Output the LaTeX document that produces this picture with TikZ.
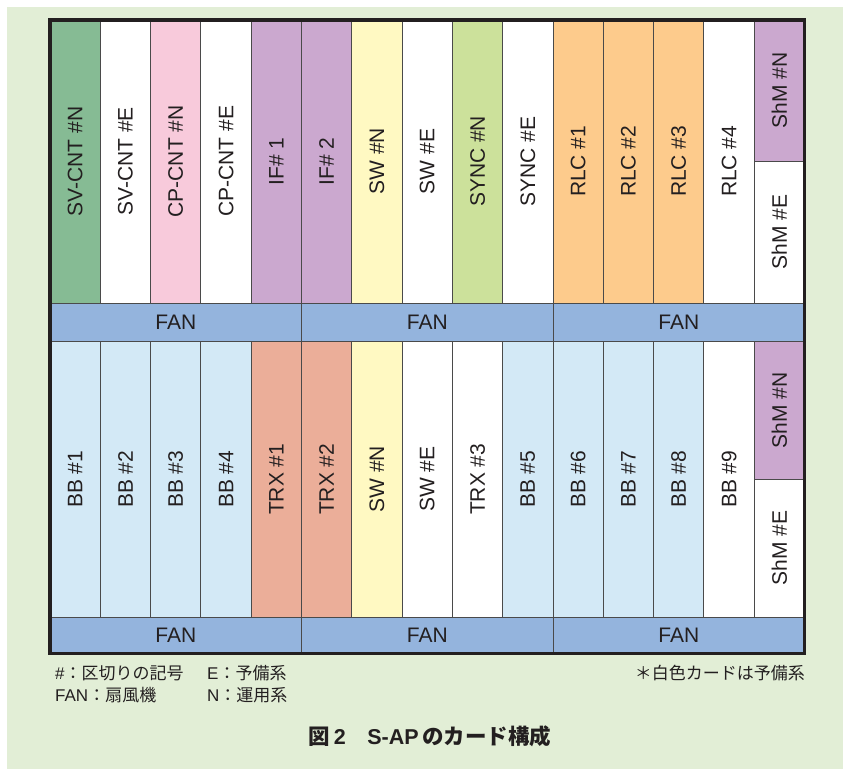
\documentclass[tikz,border=0pt]{standalone}
\usepackage{fontspec}
\setmainfont{Liberation Sans}
\newfontfamily\cjk{Noto Sans CJK JP}
\definecolor{bgc}{HTML}{E2EED6}
\definecolor{txt}{HTML}{231F20}
\definecolor{sepc}{HTML}{4A4A4A}
\definecolor{cgreen}{HTML}{86BB94}
\definecolor{cpink}{HTML}{F8CADB}
\definecolor{cpurple}{HTML}{CBA8CF}
\definecolor{cyellow}{HTML}{FFF9C2}
\definecolor{csync}{HTML}{CCE19B}
\definecolor{corange}{HTML}{FDCB8C}
\definecolor{cfan}{HTML}{94B4DD}
\definecolor{cblue}{HTML}{D3E9F6}
\definecolor{csalmon}{HTML}{EBAE99}
\def\cw{50.3}
\newcommand\mycard[6]{%
  \draw[sep, fill=#5] ({50+#2*\cw},#3) rectangle ({50+(#2+1)*\cw},#4);
  \node[lbl] (#1) at ({50+(#2+0.5)*\cw},{(#3+#4)/2}) {#6};}
\newcommand\myfan[2]{%
  \draw[sep, fill=cfan] ({50+#2*5*\cw},303) rectangle ({50+(#2+1)*5*\cw},341.5);
  \node[fanlbl] (#1) at ({50+(#2+0.5)*5*\cw},322.2) {FAN};}
\newcommand\myfanb[2]{%
  \draw[sep, fill=cfan] ({50+#2*5*\cw},617) rectangle ({50+(#2+1)*5*\cw},653.5);
  \node[fanlbl] (#1) at ({50+(#2+0.5)*5*\cw},635.2) {FAN};}
\tikzset{
  sep/.style={draw=sepc, line width=0.9pt},
  lbl/.style={rotate=90, inner sep=0pt, text=txt, font=\fontsize{21}{21}\selectfont},
  fanlbl/.style={inner sep=0pt, text=txt, font=\fontsize{21}{21}\selectfont},
  leg/.style={inner sep=0pt, text=txt, font=\fontsize{17}{17}\selectfont},
  frame/.style={draw=txt, line width=3.6pt},
}
\begin{document}
\begin{tikzpicture}[x=1pt,y=-1pt]
\useasboundingbox (0,0) rectangle (843,769);
\fill[bgc] (7,7) rectangle (843,769);
% top row
\mycard{t0}{0}{19.7}{303}{cgreen}{SV-CNT \#N}
\mycard{t1}{1}{19.7}{303}{white}{SV-CNT \#E}
\mycard{t2}{2}{19.7}{303}{cpink}{CP-CNT \#N}
\mycard{t3}{3}{19.7}{303}{white}{CP-CNT \#E}
\mycard{t4}{4}{19.7}{303}{cpurple}{IF\# 1}
\mycard{t5}{5}{19.7}{303}{cpurple}{IF\# 2}
\mycard{t6}{6}{19.7}{303}{cyellow}{SW \#N}
\mycard{t7}{7}{19.7}{303}{white}{SW \#E}
\mycard{t8}{8}{19.7}{303}{csync}{SYNC \#N}
\mycard{t9}{9}{19.7}{303}{white}{SYNC \#E}
\mycard{t10}{10}{19.7}{303}{corange}{RLC \#1}
\mycard{t11}{11}{19.7}{303}{corange}{RLC \#2}
\mycard{t12}{12}{19.7}{303}{corange}{RLC \#3}
\mycard{t13}{13}{19.7}{303}{white}{RLC \#4}
\mycard{t14}{14}{19.7}{161.5}{cpurple}{ShM \#N}
\mycard{t15}{14}{161.5}{303}{white}{ShM \#E}
% fans
\myfan{f0}{0}
\myfan{f1}{1}
\myfan{f2}{2}
% bottom row
\mycard{b0}{0}{341.5}{617}{cblue}{BB \#1}
\mycard{b1}{1}{341.5}{617}{cblue}{BB \#2}
\mycard{b2}{2}{341.5}{617}{cblue}{BB \#3}
\mycard{b3}{3}{341.5}{617}{cblue}{BB \#4}
\mycard{b4}{4}{341.5}{617}{csalmon}{TRX \#1}
\mycard{b5}{5}{341.5}{617}{csalmon}{TRX \#2}
\mycard{b6}{6}{341.5}{617}{cyellow}{SW \#N}
\mycard{b7}{7}{341.5}{617}{white}{SW \#E}
\mycard{b8}{8}{341.5}{617}{white}{TRX \#3}
\mycard{b9}{9}{341.5}{617}{cblue}{BB \#5}
\mycard{b10}{10}{341.5}{617}{cblue}{BB \#6}
\mycard{b11}{11}{341.5}{617}{cblue}{BB \#7}
\mycard{b12}{12}{341.5}{617}{cblue}{BB \#8}
\mycard{b13}{13}{341.5}{617}{white}{BB \#9}
\mycard{b14}{14}{341.5}{479.5}{cpurple}{ShM \#N}
\mycard{b15}{14}{479.5}{617}{white}{ShM \#E}
\myfanb{g0}{0}
\myfanb{g1}{1}
\myfanb{g2}{2}
% frame
\draw[frame] (50,19.7) rectangle (804.5,653.5);
% legend
\node[leg, anchor=base west] (l1) at (55,679.5) {\#{\cjk ：区切りの記号}};
\node[leg, anchor=base west] (l2) at (55,701.5) {FAN{\cjk ：扇風機}};
\node[leg, anchor=base west] (l3) at (207,679.5) {E{\cjk ：予備系}};
\node[leg, anchor=base west] (l4) at (207,701.5) {N{\cjk ：運用系}};
\node[leg, anchor=base east] (l5) at (805,679.5) {\cjk ＊白色カードは予備系};
% title
\node[inner sep=0pt, text=txt, anchor=base, font=\fontsize{21.5}{21.5}\selectfont\bfseries] (title) at (430,744)
  {{\cjk 図}\,2{\cjk 　}S-AP\,{\cjk のカード構成}};
\end{tikzpicture}
\end{document}
